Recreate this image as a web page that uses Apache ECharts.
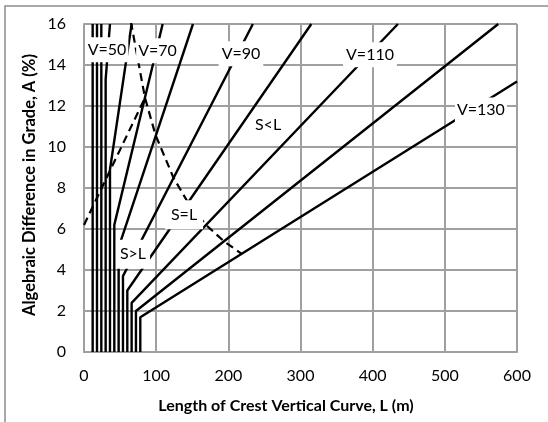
<!DOCTYPE html>
<html>
<head>
<meta charset="utf-8">
<script src="https://cdn.jsdelivr.net/npm/echarts@6/dist/echarts.min.js"></script>
<style>
  html, body { margin: 0; padding: 0; background: #ffffff; }
  #chart { width: 548px; height: 422px; }
</style>
</head>
<body>
<div id="chart"></div>
<script>
// Design speeds (km/h) and the crest-curve limits for each one
var speeds      = [20, 30, 40, 50, 60, 70, 80, 90, 100, 110, 120, 130];
var lengthMin   = [12, 18, 24, 30, 36, 42, 48, 54, 60, 66, 72, 78];        // minimum curve length L (m)
var bendGrade   = [16, 16, 16, 13.3, 8.9, 6.2, 5.1, 3.7, 3.0, 2.4, 2.0, 1.7]; // A where the sloped part starts
var endLength   = [12, 18, 24, 36, 66, 109, 151, 234, 315, 435, 574, 600]; // L at the end of each line
var endGrade    = [16, 16, 16, 16, 16, 16, 16, 16, 16, 16, 16, 13.2];      // A at the end of each line

// S = L boundary (dashed): points where each speed line switches case
var boundaryLength = [65, 84.5, 99, 124, 144, 169, 194, 218];
var boundaryGrade  = [16.1, 12.4, 10.6, 8.5, 7.3, 6.2, 5.4, 4.8];
// lower dashed branch
var branchLength = [0, 84.5];
var branchGrade  = [6.2, 12.4];

// Text labels placed on the chart (L, A)
var labelText   = ['V=50', 'V=70', 'V=90', 'V=110', 'V=130', 'S<L', 'S=L', 'S>L'];
var labelLength = [31.9, 101.8, 217.5, 396.3, 550, 255, 138.6, 67.9];
var labelGrade  = [14.75, 14.7, 14.55, 14.5, 11.8, 11.07, 6.7, 4.77];
var labelPad    = [[3, 2], [3, 2], [3, 3], [3, 3], [3, 2], [3, 3], [5, 6], [5, 4]];

// Axis ticks
var xTicks = [0, 100, 200, 300, 400, 500, 600];
var yTicks = [0, 2, 4, 6, 8, 10, 12, 14, 16];

var FONT = 'Lato';
var LABEL_SIZE = 16;
var series = [];

speeds.forEach(function (v, i) {
  series.push({
    type: 'line',
    name: 'V=' + v,
    data: [[lengthMin[i], 0], [lengthMin[i], bendGrade[i]], [endLength[i], endGrade[i]]],
    symbol: 'none',
    lineStyle: { color: '#000000', width: 2.4 },
    silent: true,
    z: 2
  });
});

[[boundaryLength, boundaryGrade], [branchLength, branchGrade]].forEach(function (pair) {
  series.push({
    type: 'line',
    data: pair[0].map(function (l, i) { return [l, pair[1][i]]; }),
    symbol: 'none',
    lineStyle: { color: '#000000', width: 2.2, type: [8, 5] },
    silent: true,
    z: 2
  });
});

var staticGraphics = [
  {
    type: 'rect',
    shape: { x: 5, y: 6, width: 700, height: 600 },
    style: { fill: 'none', stroke: '#8c8c8c', lineWidth: 1.5 },
    silent: true,
    z: -1
  },
  {
    type: 'text',
    x: 286, y: 406,
    style: {
      text: 'Length of Crest Vertical Curve, L (m)',
      font: 'bold 16px ' + FONT,
      fill: '#000000',
      textAlign: 'center',
      textVerticalAlign: 'middle'
    }
  },
  {
    type: 'text',
    x: 30, y: 185,
    rotation: Math.PI / 2,
    style: {
      text: 'Algebraic Difference in Grade, A (%)',
      font: 'bold 16.5px ' + FONT,
      fill: '#000000',
      textAlign: 'center',
      textVerticalAlign: 'middle'
    }
  }
];

var chart = echarts.init(document.getElementById('chart'), null, { renderer: 'canvas' });
chart.setOption({
  animation: false,
  backgroundColor: '#ffffff',
  grid: { left: 84, right: 31, top: 24, bottom: 70, containLabel: false },
  xAxis: {
    type: 'value',
    min: xTicks[0],
    max: xTicks[xTicks.length - 1],
    interval: xTicks[1] - xTicks[0],
    axisLine: { show: true, lineStyle: { color: '#a0a0a0', width: 2 } },
    axisTick: { show: false },
    splitLine: { show: true, lineStyle: { color: '#a0a0a0', width: 2 } },
    axisLabel: { fontFamily: FONT, fontSize: 16, color: '#000000', margin: 16 }
  },
  yAxis: {
    type: 'value',
    min: yTicks[0],
    max: yTicks[yTicks.length - 1],
    interval: yTicks[1] - yTicks[0],
    axisLine: { show: true, lineStyle: { color: '#a0a0a0', width: 2 } },
    axisTick: { show: false },
    splitLine: { show: true, lineStyle: { color: '#a0a0a0', width: 2 } },
    axisLabel: { fontFamily: FONT, fontSize: 16, color: '#000000', margin: 18 }
  },
  graphic: staticGraphics,
  series: series
});

// White-boxed text labels, anchored to (L, A) through the chart's own scales
var measure = document.createElement('canvas').getContext('2d');
measure.font = LABEL_SIZE + 'px ' + FONT;
var labelGraphics = labelText.map(function (t, i) {
  var p = chart.convertToPixel({ gridIndex: 0 }, [labelLength[i], labelGrade[i]]);
  var w = measure.measureText(t).width;
  var padV = labelPad[i][0], padH = labelPad[i][1];
  var h = LABEL_SIZE + 3;
  return {
    type: 'group',
    x: p[0], y: p[1],
    z: 100,
    silent: true,
    children: [
      {
        type: 'rect',
        shape: { x: -w / 2 - padH, y: -h / 2 - padV, width: w + 2 * padH, height: h + 2 * padV },
        style: { fill: '#ffffff' },
        z: 100
      },
      {
        type: 'text',
        style: {
          text: t,
          font: LABEL_SIZE + 'px ' + FONT,
          fill: '#000000',
          textAlign: 'center',
          textVerticalAlign: 'middle'
        },
        z: 101
      }
    ]
  };
});
chart.setOption({ graphic: staticGraphics.concat(labelGraphics) });
</script>
</body>
</html>
